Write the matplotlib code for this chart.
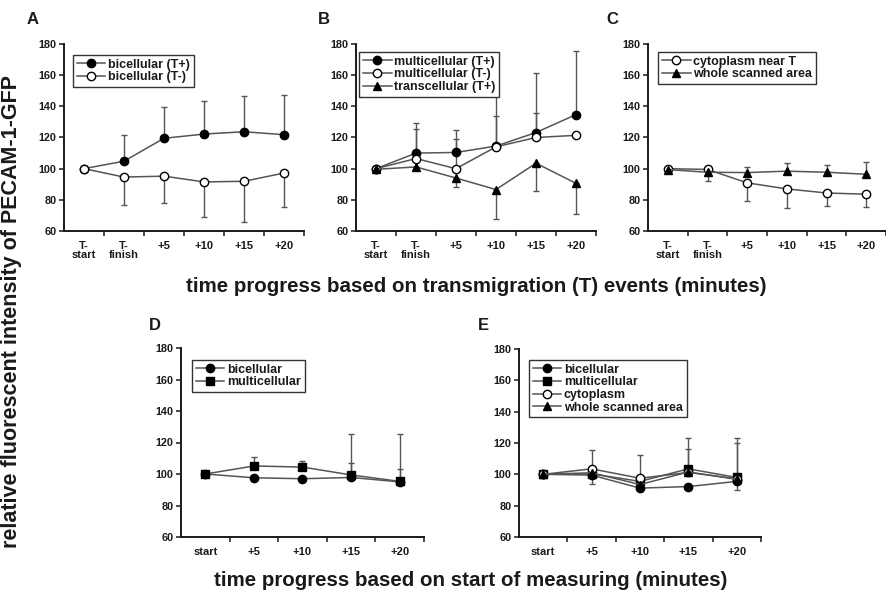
import matplotlib
matplotlib.use("Agg")
import numpy as np
import matplotlib.pyplot as plt

plt.rcParams['font.family'] = ['Liberation Sans', 'DejaVu Sans']
plt.rcParams['font.weight'] = 'bold'

# категории по оси x
cats_T = ["T-\nstart", "T-\nfinish", "+5", "+10", "+15", "+20"]
cats_M = ["start", "+5", "+10", "+15", "+20"]
yticks = [60, 80, 100, 120, 140, 160, 180]

# панель A
a_bi_tp = [100, 104.8, 119.5, 122.2, 123.7, 121.8]
a_bi_tp_hi = [0, 16.5, 20, 21.5, 23, 25.5]
a_bi_tm = [100, 94.6, 95.2, 91.5, 91.9, 97.2]
a_bi_tm_lo = [0, 18, 17.4, 22.5, 26, 22]

# панель B
b_mc_tp = [100, 110, 110.4, 114.5, 123.2, 134.7]
b_mc_tp_hi = [0, 19.2, 14.7, 34, 38.5, 40.5]
b_mc_tm = [100, 106.5, 100, 114, 120, 121.4]
b_mc_tm_hi = [0, 19, 19, 19.5, 16, 0]
b_tc_tp = [99.6, 101.1, 94, 86.6, 103.5, 90.6]
b_tc_tp_lo = [0, 0, 5.7, 18.6, 17.8, 19.8]

# панель C
c_cyto = [100, 99.5, 90.9, 87, 84.4, 83.6]
c_cyto_lo = [0, 7.5, 11.4, 12.2, 8.5, 8]
c_whole = [99.4, 97.7, 97.5, 98.4, 97.7, 96.4]
c_whole_hi = [0, 3.9, 3.5, 5.3, 4.9, 7.7]

# панель D
d_bi = [100, 97.6, 97, 97.8, 95]
d_bi_hi = [0, 0, 0, 9.4, 8]
d_mc = [100, 105.1, 104.4, 99.4, 95.3]
d_mc_hi = [0, 5.7, 4, 26, 30]

# панель E
e_bi = [100, 99.5, 91.2, 92.2, 95.5]
e_bi_lo = [0, 5.5, 0, 0, 5.5]
e_mc = [100, 100.3, 95.5, 103.5, 98]
e_mc_hi = [0, 0, 0, 20, 25]
e_cyto = [100, 103.5, 97.5, 101.2, 97.2]
e_cyto_hi = [0, 12, 14.8, 0, 23]
e_whole = [100, 101, 93.5, 101.5, 96.8]
e_whole_hi = [0, 0, 0, 14.5, 0]

W, H = 887, 591
TXT = '#1a1a1a'
LN = '#555555'

fig = plt.figure(figsize=(W / 100, H / 100), dpi=100)


def make_ax(l, r, t, b, cats):
    ax = fig.add_axes([l / W, 1 - b / H, (r - l) / W, (b - t) / H])
    n = len(cats)
    ax.set_xlim(-0.5, n - 0.5)
    ax.set_ylim(60, 180)
    ax.set_yticks(yticks)
    ax.set_xticks(range(n))
    ax.set_xticklabels(cats, linespacing=0.95)
    ax.set_xticks(np.arange(n) + 0.5, minor=True)
    ax.tick_params(axis='x', which='major', length=0, pad=7,
                   labelsize=8, colors=TXT)
    ax.tick_params(axis='x', which='minor', length=3.5, width=1.1,
                   direction='out', color=TXT)
    ax.tick_params(axis='y', length=3.5, width=1.1, labelsize=7.8,
                   colors=TXT, pad=2)
    for s in ('top', 'right'):
        ax.spines[s].set_visible(False)
    for s in ('left', 'bottom'):
        ax.spines[s].set_linewidth(1.4)
        ax.spines[s].set_color(TXT)
    for lab in ax.get_xticklabels() + ax.get_yticklabels():
        lab.set_fontweight('bold')
    return ax


def series(ax, y, lo, hi, marker, face, label):
    x = np.arange(len(y))
    ax.errorbar(x, y, yerr=[lo, hi], fmt='none', ecolor=LN,
                elinewidth=1.0, capsize=2.2, capthick=1.0, zorder=2)
    ax.plot(x, y, color=LN, lw=1.1, marker=marker, ms=6,
            mfc=face, mec='black', mew=1.0, label=label, zorder=3)


def legend(ax, dx, dy, w, h):
    lg = ax.legend(loc='upper left', bbox_to_anchor=(dx / w, 1 - dy / h),
                   borderaxespad=0, fancybox=False, framealpha=1,
                   edgecolor='#333333', fontsize=9, handlelength=2.3,
                   handletextpad=0.2, labelspacing=0.05, borderpad=0.3)
    lg.get_frame().set_linewidth(1.0)
    for t in lg.get_texts():
        t.set_fontweight('bold')
        t.set_color(TXT)


z = [0, 0, 0, 0, 0, 0]
z5 = [0, 0, 0, 0, 0]

# A
axA = make_ax(64, 304, 44, 231, cats_T)
series(axA, a_bi_tp, z, a_bi_tp_hi, 'o', 'black', 'bicellular (T+)')
series(axA, a_bi_tm, a_bi_tm_lo, z, 'o', 'white', 'bicellular (T-)')
legend(axA, 9, 11, 240, 187)

# B
axB = make_ax(356, 596, 44, 231, cats_T)
series(axB, b_mc_tp, z, b_mc_tp_hi, 'o', 'black', 'multicellular (T+)')
series(axB, b_mc_tm, z, b_mc_tm_hi, 'o', 'white', 'multicellular (T-)')
series(axB, b_tc_tp, b_tc_tp_lo, z, '^', 'black', 'transcellular (T+)')
legend(axB, 3, 8, 240, 187)

# C
axC = make_ax(648, 886, 44, 231, cats_T)
series(axC, c_cyto, c_cyto_lo, z, 'o', 'white', 'cytoplasm near T')
series(axC, c_whole, z, c_whole_hi, '^', 'black', 'whole scanned area')
legend(axC, 10, 8, 238, 187)

# D
axD = make_ax(181, 424, 348, 537, cats_M)
series(axD, d_bi, z5, d_bi_hi, 'o', 'black', 'bicellular')
series(axD, d_mc, z5, d_mc_hi, 's', 'black', 'multicellular')
legend(axD, 11, 12, 243, 189)

# E
axE = make_ax(519, 761, 349, 537, cats_M)
series(axE, e_bi, e_bi_lo, z5, 'o', 'black', 'bicellular')
series(axE, e_mc, z5, e_mc_hi, 's', 'black', 'multicellular')
series(axE, e_cyto, z5, e_cyto_hi, 'o', 'white', 'cytoplasm')
series(axE, e_whole, z5, e_whole_hi, '^', 'black', 'whole scanned area')
legend(axE, 10, 11, 242, 188)

# буквы панелей
for lab, px, py in [('A', 33, 20), ('B', 324, 20), ('C', 612, 20),
                    ('D', 155, 326), ('E', 483, 326)]:
    fig.text(px / W, 1 - py / H, lab, ha='center', va='center',
             fontsize=12, fontweight='bold', color=TXT)

fig.text(476 / W, 1 - 286 / H,
         'time progress based on transmigration (T) events (minutes)',
         ha='center', va='center', fontsize=14.8, fontweight='bold', color=TXT)
fig.text(471 / W, 1 - 580 / H,
         'time progress based on start of measuring (minutes)',
         ha='center', va='center', fontsize=14.8, fontweight='bold', color=TXT)
fig.text(12 / W, 1 - 312 / H,
         'relative fluorescent intensity of PECAM-1-GFP', rotation=90,
         ha='center', va='center', fontsize=15.5, fontweight='bold', color=TXT)

fig.savefig('out.png', dpi=100)
